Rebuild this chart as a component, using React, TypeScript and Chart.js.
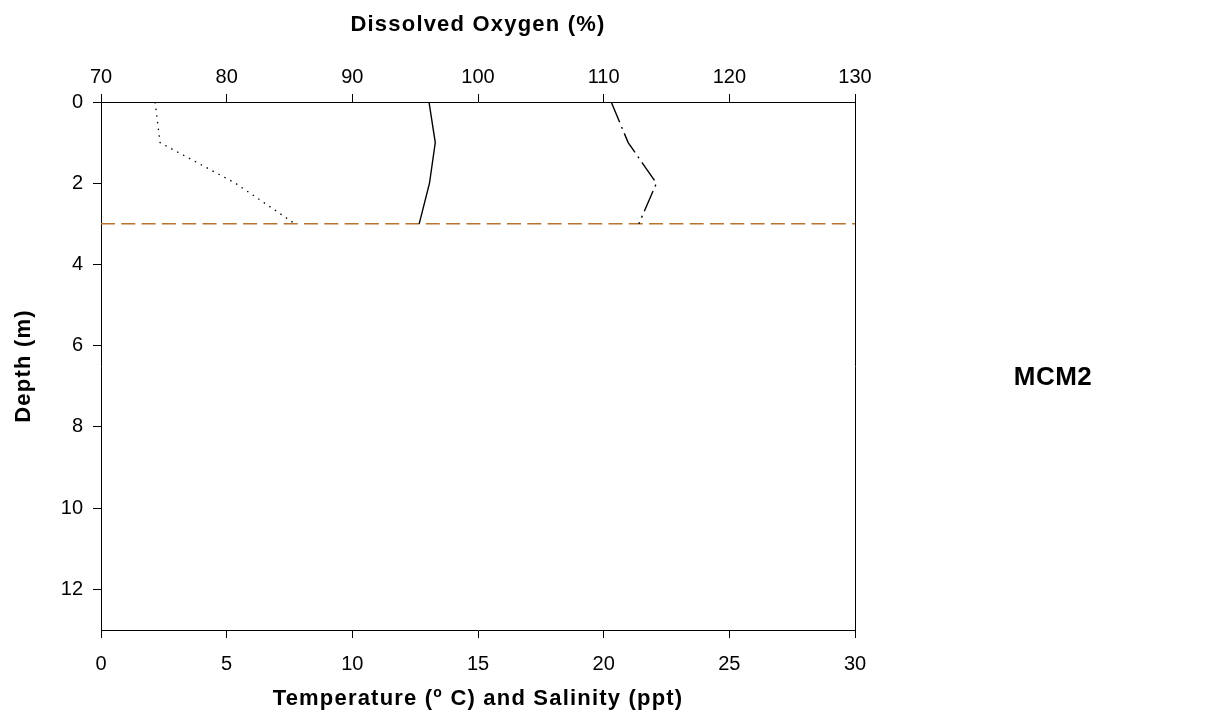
import React, { useEffect, useRef } from 'react';
import { Chart, registerables } from 'chart.js';

Chart.register(...registerables);

// ---- data ----
const depthM = [0, 1, 2, 3];
const temperatureC = [2.15, 2.35, 5.35, 7.72];
const salinityPpt = [13.05, 13.3, 13.07, 12.66];
const dissolvedOxygenPct = [110.6, 111.95, 114.2, 112.8];
const referenceDepthM = 3;

const depthTicks = [0, 2, 4, 6, 8, 10, 12];
const bottomTicks = [0, 5, 10, 15, 20, 25, 30];
const topTicks = [70, 80, 90, 100, 110, 120, 130];

const topTitle = 'Dissolved Oxygen (%)';
const bottomTitleA = 'Temperature (';
const bottomTitleSup = 'o';
const bottomTitleB = ' C) and Salinity (ppt)';
const leftTitle = 'Depth (m)';
const siteLabel = 'MCM2';

const FONT = '"Liberation Sans", Arial, Helvetica, sans-serif';

const W = 1208;
const H = 719;
const PLOT_LEFT = 101;
const PLOT_RIGHT = 855;
const PLOT_TOP = 102;
const PLOT_BOTTOM = 630;

const titlesPlugin = {
  id: 'titlesPlugin',
  afterDraw(chart: any) {
    const ctx = chart.ctx as CanvasRenderingContext2D;
    const cx = (chart.chartArea.left + chart.chartArea.right) / 2;
    const cy = (chart.chartArea.top + chart.chartArea.bottom) / 2;
    ctx.save();
    ctx.fillStyle = '#000';
    (ctx as any).letterSpacing = '1.2px';
    ctx.font = `bold 22px ${FONT}`;
    ctx.textBaseline = 'alphabetic';
    ctx.textAlign = 'center';
    ctx.fillText(topTitle, cx, 31);

    // bottom title with superscript
    ctx.textAlign = 'left';
    const bigFont = `bold 22px ${FONT}`;
    const supFont = `bold 14px ${FONT}`;
    ctx.font = bigFont;
    const wA = ctx.measureText(bottomTitleA).width;
    const wB = ctx.measureText(bottomTitleB).width;
    ctx.font = supFont;
    const wS = ctx.measureText(bottomTitleSup).width;
    const total = wA + wS + wB;
    let x = cx - total / 2;
    const by = 705;
    ctx.font = bigFont;
    ctx.fillText(bottomTitleA, x, by);
    x += wA;
    ctx.font = supFont;
    ctx.fillText(bottomTitleSup, x, by - 8);
    x += wS;
    ctx.font = bigFont;
    ctx.fillText(bottomTitleB, x, by);

    // left title rotated
    ctx.save();
    ctx.translate(30, cy);
    ctx.rotate(-Math.PI / 2);
    ctx.textAlign = 'center';
    ctx.font = `bold 22px ${FONT}`;
    ctx.fillText(leftTitle, 0, 0);
    ctx.restore();

    // site label
    (ctx as any).letterSpacing = '0.5px';
    ctx.textAlign = 'center';
    ctx.font = `bold 26px ${FONT}`;
    ctx.fillText(siteLabel, 1053, 385);
    ctx.restore();
  },
};

function axisCommon() {
  return {
    grid: {
      display: true,
      drawOnChartArea: false,
      drawTicks: true,
      tickLength: 8,
      color: '#000',
      lineWidth: 1,
    },
    border: { display: true, color: '#000', width: 1 },
    ticks: {
      color: '#000',
      font: { family: FONT, size: 20 },
      maxRotation: 0,
      autoSkip: false,
    },
  };
}

export default function App() {
  const canvasRef = useRef<HTMLCanvasElement | null>(null);

  useEffect(() => {
    const canvas = canvasRef.current;
    if (!canvas) return;

    const tempData = depthM.map((d, i) => ({ x: temperatureC[i], y: d }));
    const salData = depthM.map((d, i) => ({ x: salinityPpt[i], y: d }));
    const doData = depthM.map((d, i) => ({ x: dissolvedOxygenPct[i], y: d }));
    const refData = [
      { x: bottomTicks[0], y: referenceDepthM },
      { x: bottomTicks[bottomTicks.length - 1], y: referenceDepthM },
    ];

    const common = axisCommon();

    const chart = new Chart(canvas, {
      type: 'line',
      data: {
        datasets: [
          {
            label: 'Temperature',
            data: tempData,
            xAxisID: 'x',
            yAxisID: 'y',
            borderColor: '#000',
            borderWidth: 1.3,
            borderDash: [1.5, 5.2],
            pointRadius: 0,
            fill: false,
            tension: 0,
          },
          {
            label: 'Salinity',
            data: salData,
            xAxisID: 'x',
            yAxisID: 'y',
            borderColor: '#000',
            borderWidth: 1.4,
            pointRadius: 0,
            fill: false,
            tension: 0,
          },
          {
            label: 'Dissolved Oxygen',
            data: doData,
            xAxisID: 'x2',
            yAxisID: 'y',
            borderColor: '#000',
            borderWidth: 1.4,
            borderDash: [22, 5, 2, 5],
            pointRadius: 0,
            fill: false,
            tension: 0,
          },
          {
            label: 'Reference depth',
            data: refData,
            xAxisID: 'x',
            yAxisID: 'y',
            borderColor: '#b8752f',
            borderWidth: 1.5,
            borderDash: [14, 6.3],
            pointRadius: 0,
            fill: false,
            tension: 0,
          },
        ],
      },
      options: {
        responsive: false,
        maintainAspectRatio: false,
        animation: false,
        events: [],
        layout: { padding: { left: 0, top: 0, right: W - PLOT_RIGHT, bottom: 0 } },
        plugins: {
          legend: { display: false },
          tooltip: { enabled: false },
          title: { display: false },
        },
        scales: {
          x: {
            type: 'linear',
            position: 'bottom',
            min: 0,
            max: 30,
            ...common,
            ticks: { ...common.ticks, padding: 14 },
            afterBuildTicks: (s: any) => {
              s.ticks = bottomTicks.map((v) => ({ value: v }));
            },
            afterFit: (s: any) => {
              s.height = H - PLOT_BOTTOM;
            },
          },
          x2: {
            type: 'linear',
            position: 'top',
            min: 70,
            max: 130,
            ...common,
            ticks: { ...common.ticks, padding: 5 },
            afterBuildTicks: (s: any) => {
              s.ticks = topTicks.map((v) => ({ value: v }));
            },
            afterFit: (s: any) => {
              s.height = PLOT_TOP;
            },
          },
          y: {
            type: 'linear',
            position: 'left',
            reverse: true,
            min: 0,
            max: 13,
            ...common,
            ticks: { ...common.ticks, padding: 10 },
            afterBuildTicks: (s: any) => {
              s.ticks = depthTicks.map((v) => ({ value: v }));
            },
            afterFit: (s: any) => {
              s.width = PLOT_LEFT;
            },
          },
          yR: {
            type: 'linear',
            position: 'right',
            display: true,
            min: 0,
            max: 13,
            grid: { display: false, drawTicks: false },
            border: { display: true, color: '#000', width: 1 },
            ticks: { display: false },
            afterFit: (s: any) => {
              s.width = 0;
            },
          },
        },
      } as any,
      plugins: [titlesPlugin],
    });

    return () => {
      chart.destroy();
    };
  }, []);

  return (
    <div style={{ position: 'fixed', left: 0, top: 0, width: W, height: H, background: '#fff' }}>
      <canvas ref={canvasRef} width={W} height={H} style={{ width: W, height: H, display: 'block' }} />
    </div>
  );
}
